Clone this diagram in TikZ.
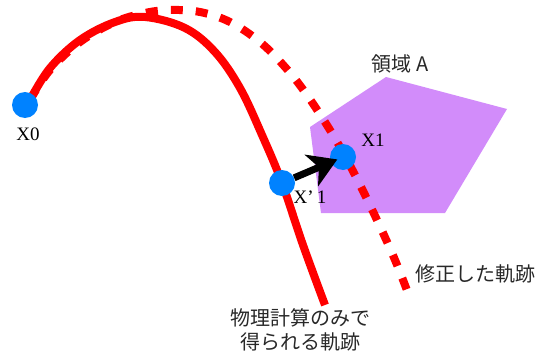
\documentclass[tikz,border=0pt]{standalone}
\usepackage{fontspec}
\setmainfont{Liberation Serif}
\newfontfamily\cjk{Noto Sans CJK JP}
\usetikzlibrary{arrows.meta}
\definecolor{trajred}{RGB}{255,0,0}
\definecolor{ptblue}{RGB}{0,130,255}
\definecolor{regionpurple}{RGB}{210,140,250}
\definecolor{labelgray}{RGB}{40,40,40}
\tikzset{
  pt/.style={circle, fill=ptblue, draw=none, minimum size=26pt, inner sep=0pt},
  lbl/.style={font=\fontsize{19}{23}\selectfont, text=black, inner sep=0pt},
  jlbl/.style={font=\cjk\fontsize{20}{24}\selectfont, text=labelgray, inner sep=0pt, align=center},
  solidtraj/.style={trajred, line width=8pt},
  dashtraj/.style={trajred, line width=8pt, dash pattern=on 12pt off 13pt},
}
\begin{document}
\begin{tikzpicture}[x=1pt, y=-1pt]
\useasboundingbox (0,0) rectangle (548,356);
% region A
\fill[regionpurple] (310,127) -- (386,77) -- (507,109) -- (445,213) -- (321,213) -- cycle;
% corrected trajectory (dashed)
\draw[dashtraj] plot[smooth, tension=0.6] coordinates {(30,100) (50,70) (80,42) (115,22) (145,13) (170,10) (200,12) (230,22) (260,42) (285,67) (307,95) (333,135) (355,175) (377,220) (395,260) (408,293)};
% physical trajectory (solid)
\draw[solidtraj] plot[smooth, tension=0.6] coordinates {(30,100) (50,68) (80,40) (115,22) (145,17) (185,28) (215,52) (240,88) (262,135) (282,183) (303,245) (325,305)};
% points
\node[pt] (x0) at (25,105) {};
\node[pt] (x1) at (343,157) {};
\node[pt] (x1p) at (282,183) {};
% arrow
\draw[line width=7pt, -{Stealth[length=28pt, width=34pt, inset=8pt]}, shorten >=-7pt] (x1p) -- (x1);
% labels
\node[lbl] (lx0) at (28,134) {X0};
\node[lbl] (lx1) at (373,140) {X1};
\node[lbl] (lx1p) at (310,197) {X’\,1};
\node[jlbl] (lregion) at (400,64) {領域 A};
\node[jlbl] (lcorr) at (475,274) {修正した軌跡};
\node[jlbl] (lphys) at (300,330) {物理計算のみで\\得られる軌跡};
\end{tikzpicture}
\end{document}
